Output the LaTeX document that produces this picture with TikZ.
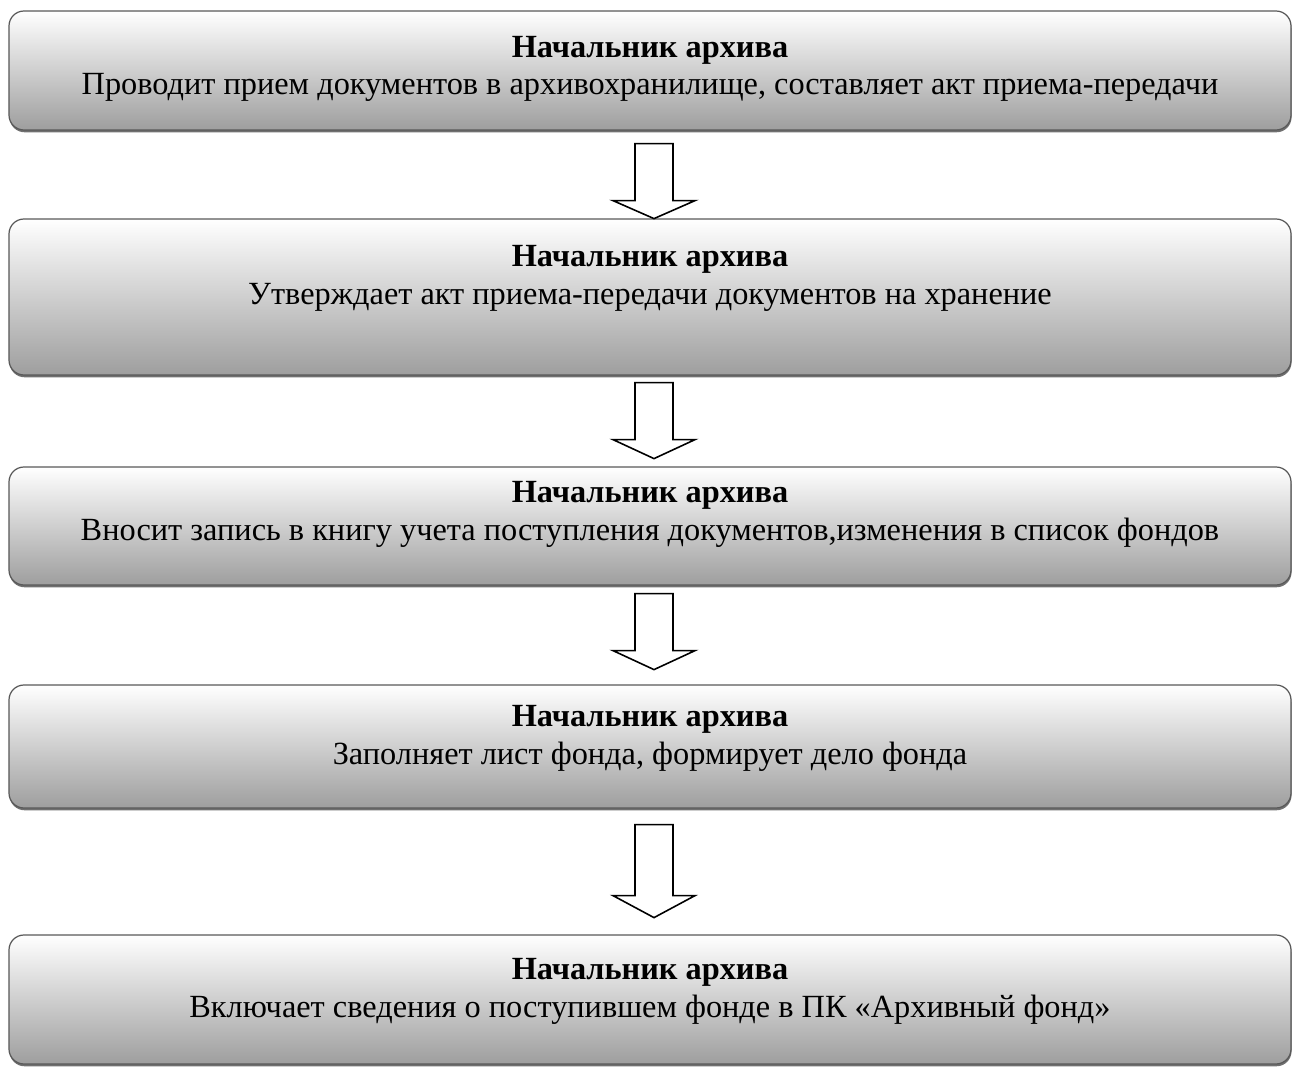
\documentclass[tikz,border=0pt]{standalone}
\usepackage{fontspec}
\setmainfont{Liberation Serif}
\usepackage{tikz}
\usetikzlibrary{calc, shadows}
\tikzstyle{stagebox} = [rectangle, rounded corners=0.3cm, minimum width=25.64cm, draw=black!65, line width=0.7pt, top color=white, bottom color=black!38, drop shadow={shadow xshift=0.3pt, shadow yshift=-1.3pt, opacity=0.7, fill=black!80}]
\tikzstyle{stagetext} = [align=center, font=\fontsize{18.4}{21.5}\selectfont, inner sep=0pt]
\tikzstyle{blockarrow} = [draw=black, line width=0.9pt, fill=white, line join=miter]

\begin{document}
\begin{tikzpicture}
		\useasboundingbox (0,0) rectangle (25.86,-21.34);
		
		% Boxes
		\node (box1) [stagebox, minimum height=2.38cm] at (13.0,-1.41) {};
		\node (box2) [stagebox, minimum height=3.12cm] at (13.0,-5.94) {};
		\node (box3) [stagebox, minimum height=2.36cm] at (13.0,-10.52) {};
		\node (box4) [stagebox, minimum height=2.46cm] at (13.0,-14.93) {};
		\node (box5) [stagebox, minimum height=2.58cm] at (13.0,-19.99) {};
		
		% Texts
		\node (text1) [stagetext] at (13.0,-1.38) {\textbf{Начальник архива}\\Проводит прием документов в архивохранилище, составляет акт приема-передачи};
		\node (text2) [stagetext] at (13.0,-5.57) {\textbf{Начальник архива}\\Утверждает акт приема-передачи документов на хранение};
		\node (text3) [stagetext] at (13.0,-10.29) {\textbf{Начальник архива}\\Вносит запись в книгу учета поступления документов,изменения в список фондов};
		\node (text4) [stagetext] at (13.0,-14.77) {\textbf{Начальник архива}\\Заполняет лист фонда, формирует дело фонда};
		\node (text5) [stagetext] at (13.0,-19.83) {\textbf{Начальник архива}\\Включает сведения о поступившем фонде в ПК «Архивный фонд»};
		
		% Arrows between boxes
		\foreach \a/\gap/\s/\h in {box1/0.26/1.14/0.36, box2/0.14/1.14/0.38, box3/0.16/1.14/0.38, box4/0.32/1.42/0.44}
		\draw [blockarrow] ($(\a.south)+(-0.3,-\gap)$) -- ++(0,-\s) -- ++(-0.44,0) -- ++(0.82,-\h) -- ++(0.82,\h) -- ++(-0.44,0) -- ++(0,\s) -- cycle;
		
	\end{tikzpicture}
\end{document}
